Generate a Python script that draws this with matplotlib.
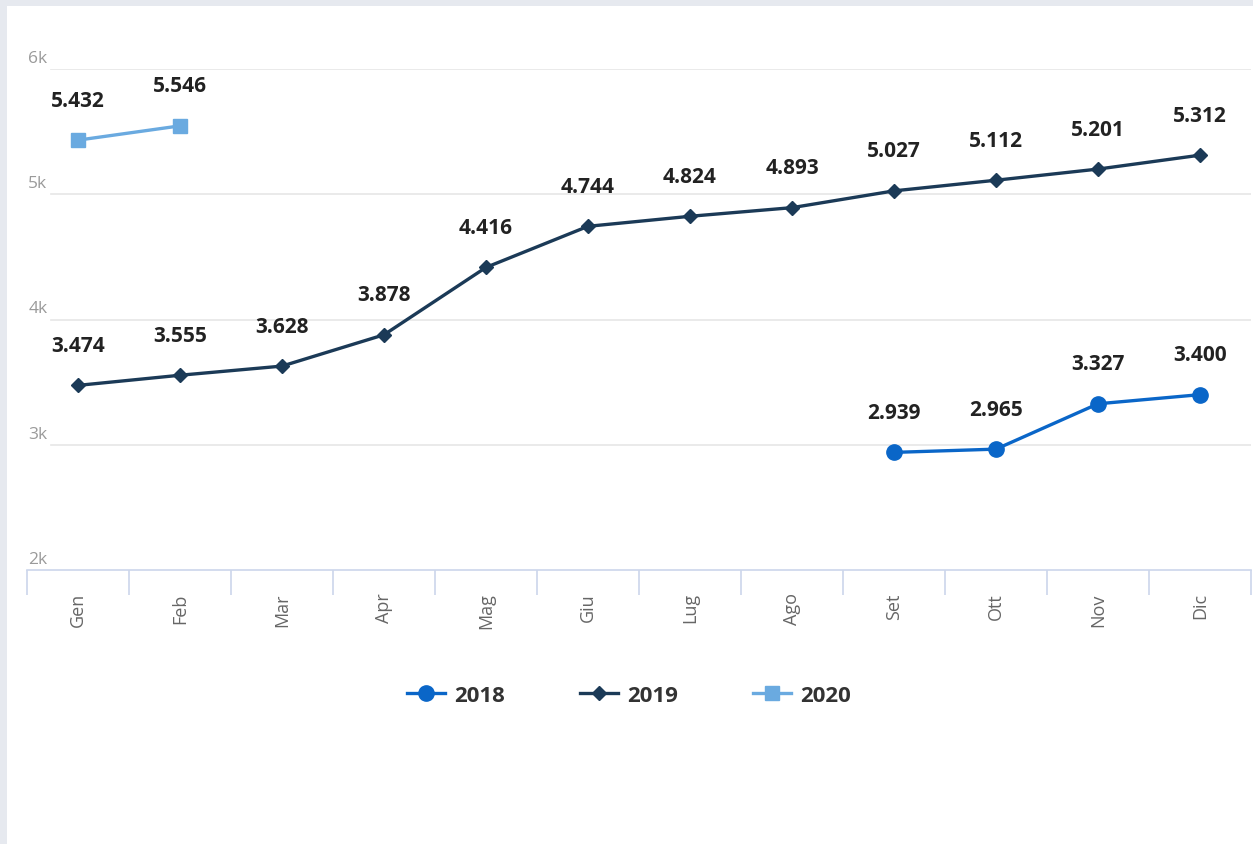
import matplotlib.pyplot as plt
from matplotlib.patches import Rectangle
from matplotlib.lines import Line2D
import matplotlib.transforms as mtransforms

plt.rcParams['font.family'] = ['Open Sans', 'DejaVu Sans']

# data
mesi = ['Gen', 'Feb', 'Mar', 'Apr', 'Mag', 'Giu', 'Lug', 'Ago', 'Set', 'Ott', 'Nov', 'Dic']
idx_2018 = [8, 9, 10, 11]
val_2018 = [2939, 2965, 3327, 3400]
idx_2019 = list(range(12))
val_2019 = [3474, 3555, 3628, 3878, 4416, 4744, 4824, 4893, 5027, 5112, 5201, 5312]
idx_2020 = [0, 1]
val_2020 = [5432, 5546]
y_ticks = [2000, 3000, 4000, 5000, 6000]
y_labels = ['2k', '3k', '4k', '5k', '6k']

c2018 = '#0a66c8'
c2019 = '#1b3a57'
c2020 = '#6aaae0'

fig = plt.figure(figsize=(12.53, 8.45), dpi=100)
fig.patch.set_facecolor('#e6e9ef')
fig.patches.append(Rectangle((7 / 1253, 0), 1, 1 - 7 / 845, transform=fig.transFigure,
                             facecolor='white', edgecolor='none', zorder=-5))

ax = fig.add_axes([27 / 1253, 1 - 571 / 845, 1224 / 1253, 501 / 845])
ax.set_facecolor('none')
ax.set_xlim(-0.5, 11.5)
ax.set_ylim(2000, 6000)

for s in ['top', 'right', 'left']:
    ax.spines[s].set_visible(False)
ax.spines['bottom'].set_color('#ccd6eb')
ax.spines['bottom'].set_linewidth(1.2)

# gridlines + y labels inside plot
for t in y_ticks[1:]:
    ax.axhline(t, xmin=0.02, xmax=1, color='#e6e6e6', lw=1.2, zorder=1)
trans = mtransforms.blended_transform_factory(ax.transAxes, ax.transData)
for t, lab in zip(y_ticks, y_labels):
    ax.text(0.001, t + 25, lab, transform=trans, ha='left', va='bottom',
            fontsize=12.5, color='#9a9a9a')
ax.set_yticks([])

# x ticks at category boundaries, labels at centres
ax.set_xticks([i - 0.5 for i in range(13)], minor=False)
ax.set_xticklabels([])
ax.tick_params(axis='x', which='major', length=18, width=1.2, color='#ccd6eb')
ax.set_xticks(range(12), minor=True)
ax.set_xticklabels(mesi, minor=True, rotation=90, fontsize=13, color='#666666')
ax.tick_params(axis='x', which='minor', length=0, pad=16)

ax.plot(idx_2018, val_2018, color=c2018, lw=2.4, marker='o', ms=11, zorder=3, clip_on=False)
ax.plot(idx_2019, val_2019, color=c2019, lw=2.4, marker='D', ms=7.5, zorder=3, clip_on=False)
ax.plot(idx_2020, val_2020, color=c2020, lw=2.4, marker='s', ms=10, zorder=3, clip_on=False)


def fmt(v):
    return f'{v:,}'.replace(',', '.')


for xs, vs in [(idx_2018, val_2018), (idx_2019, val_2019), (idx_2020, val_2020)]:
    for x, v in zip(xs, vs):
        ax.annotate(fmt(v), (x, v), xytext=(0, 40), textcoords='offset pixels',
                    ha='center', va='center', fontsize=15, fontweight='bold',
                    color='#222222', zorder=4, annotation_clip=False)

handles = [
    Line2D([], [], color=c2018, lw=2.4, marker='o', ms=11),
    Line2D([], [], color=c2019, lw=2.4, marker='D', ms=7.5),
    Line2D([], [], color=c2020, lw=2.4, marker='s', ms=10),
]
leg = fig.legend(handles, ['2018', '2019', '2020'], loc='center',
                 bbox_to_anchor=(629 / 1253, 1 - 696 / 845), ncol=3, frameon=False,
                 prop={'size': 16, 'weight': 'bold'}, handlelength=1.7,
                 columnspacing=3.4, handletextpad=0.4)
for t in leg.get_texts():
    t.set_color('#333333')

fig.savefig('out.png', dpi=100, facecolor=fig.get_facecolor())
